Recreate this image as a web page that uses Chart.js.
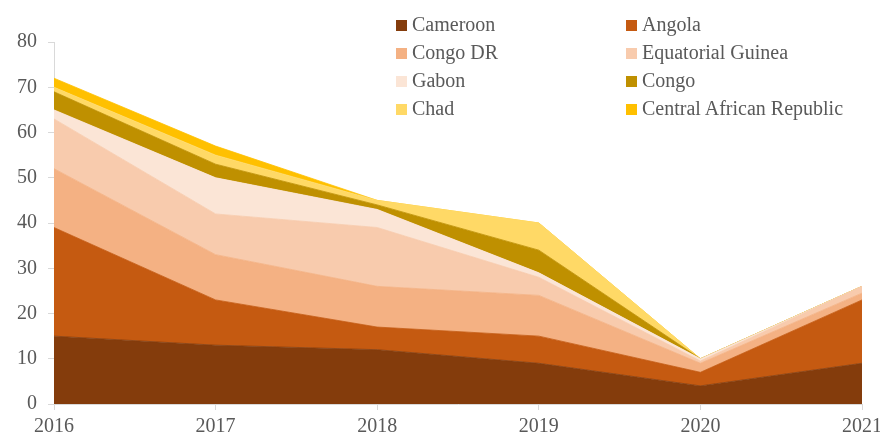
<!DOCTYPE html>
<html>
<head>
<meta charset="utf-8">
<script src="https://cdn.jsdelivr.net/npm/chart.js@4.4.1/dist/chart.umd.min.js"></script>
<style>
    html, body { margin: 0; padding: 0; background: #ffffff; }
    #wrap { position: relative; width: 880px; height: 436px; }
    #legend { position: absolute; left: 396px; top: 10px; width: 480px; font-family: "Liberation Serif", "Times New Roman", serif; font-size: 20px; color: #595959; }
    .item { position: absolute; height: 28px; line-height: 28px; white-space: nowrap; }
    .box { display: inline-block; width: 11px; height: 11px; margin-right: 5px; vertical-align: 0px; }
</style>
</head>
<body>
<div id="wrap">
    <canvas id="chart" width="880" height="436"></canvas>
    <div id="legend"></div>
</div>
<script>
// Données
const years = ["2016", "2017", "2018", "2019", "2020", "2021"];
const countries = ["Cameroon", "Angola", "Congo DR", "Equatorial Guinea", "Gabon", "Congo", "Chad", "Central African Republic"];
const cameroon = [15, 13, 12, 9, 4, 9];
const angola = [24, 10, 5, 6, 3, 14];
const congoDR = [13, 10, 9, 9, 2, 1.5];
const eqGuinea = [11, 9, 13, 4, 0.5, 1.5];
const gabon = [2, 8, 4, 1, 0.5, 0];
const congo = [4, 3, 1, 5, 0, 0];
const chad = [1, 2, 1, 6, 0, 0];
const car = [2, 2, 0, 0, 0, 0];
const yTicks = [0, 10, 20, 30, 40, 50, 60, 70, 80];

const seriesValues = [cameroon, angola, congoDR, eqGuinea, gabon, congo, chad, car];
const colors = ["#843C0C", "#C55A11", "#F4B183", "#F8CBAD", "#FBE5D6", "#BF9000", "#FFD966", "#FFC000"];

const textColor = "#595959";
const axisColor = "#d9d9d9";
const serif = "'Liberation Serif', 'Times New Roman', serif";

const datasets = countries.map((name, i) => ({
    label: name,
    data: seriesValues[i],
    backgroundColor: colors[i],
    borderColor: colors[i],
    borderWidth: 0.8,
    pointRadius: 0,
    tension: 0,
    fill: i === 0 ? "origin" : "-1",
}));

const chart = new Chart(document.getElementById("chart"), {
    type: "line",
    data: { labels: years, datasets: datasets },
    options: {
        responsive: false,
        animation: false,
        layout: { padding: { top: 42, left: 0, right: 0, bottom: 0 } },
        plugins: {
            legend: { display: false },
            tooltip: { enabled: false },
        },
        scales: {
            x: {
                offset: false,
                grid: { drawOnChartArea: false, color: axisColor, tickLength: 6 },
                border: { color: axisColor },
                ticks: { color: textColor, font: { family: serif, size: 20 }, padding: 5, maxRotation: 0 },
                afterFit: (scale) => {
                    scale.height = 32;
                    scale.paddingLeft = 54;
                    scale.paddingRight = 18;
                },
            },
            y: {
                stacked: true,
                min: 0,
                max: 80,
                afterBuildTicks: (scale) => {
                    scale.ticks = yTicks.map((v) => ({ value: v }));
                },
                grid: { drawOnChartArea: false, color: axisColor, tickLength: 6 },
                border: { color: axisColor },
                ticks: { color: textColor, font: { family: serif, size: 20 }, padding: 11 },
                afterFit: (scale) => {
                    scale.width = 54;
                },
            },
        },
    },
});

// Légende en deux colonnes
const legend = document.getElementById("legend");
countries.forEach((name, i) => {
    const div = document.createElement("div");
    div.className = "item";
    div.style.left = (i % 2) * 230 + "px";
    div.style.top = Math.floor(i / 2) * 28 + "px";
    const box = document.createElement("span");
    box.className = "box";
    box.style.background = colors[i];
    div.appendChild(box);
    div.appendChild(document.createTextNode(name));
    legend.appendChild(div);
});
</script>
</body>
</html>
